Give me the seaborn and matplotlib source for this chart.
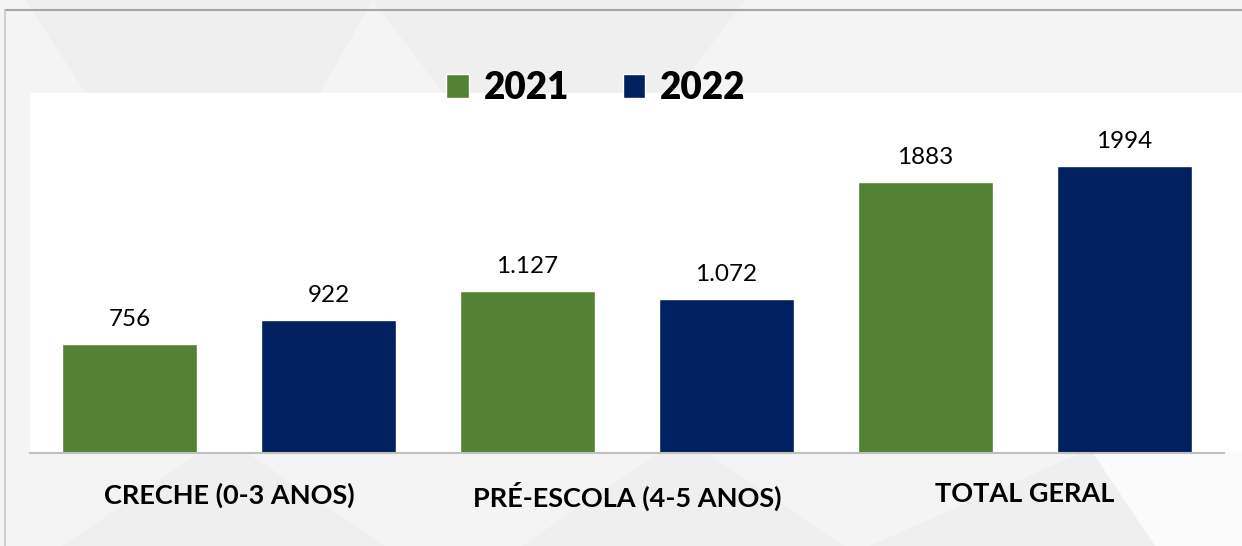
import pandas as pd
import numpy as np
import matplotlib.pyplot as plt
import seaborn as sns
from matplotlib.patches import Rectangle, Polygon
from matplotlib.lines import Line2D

# Chart data
categories = ["CRECHE (0-3 ANOS)", "PRÉ-ESCOLA (4-5 ANOS)", "TOTAL GERAL"]
years = ["2021", "2022"]
values_2021 = [756, 1127, 1883]
values_2022 = [922, 1072, 1994]
labels_2021 = ["756", "1.127", "1883"]
labels_2022 = ["922", "1.072", "1994"]

colors = {"2021": "#548235", "2022": "#002060"}

df = pd.DataFrame({
    "Categoria": categories * 2,
    "Ano": ["2021"] * 3 + ["2022"] * 3,
    "Matriculas": values_2021 + values_2022,
})

sns.set_style("white")
plt.rcParams["font.family"] = ["Lato", "DejaVu Sans"]
plt.rcParams["text.color"] = "black"

fig = plt.figure(figsize=(12.42, 5.46), dpi=100)
fig.patch.set_facecolor("#f4f4f4")

# faint background texture
bg_shapes = [
    [(0.02, 1.0), (0.17, 0.48), (0.30, 1.0)],
    [(0.30, 1.0), (0.45, 0.55), (0.60, 1.0)],
    [(0.05, 0.0), (0.18, 0.20), (0.31, 0.0)],
    [(0.42, 0.0), (0.55, 0.20), (0.68, 0.0)],
    [(0.70, 0.0), (0.90, 0.20), (1.0, 0.0)],
]
for pts in bg_shapes:
    fig.patches.append(Polygon(pts, closed=True, transform=fig.transFigure,
                               facecolor="#efefef", edgecolor="none", zorder=0))
fig.patches.append(Polygon([(0.88, 0.17), (0.93, 0.0), (1.0, 0.0), (1.0, 0.17)],
                           closed=True, transform=fig.transFigure,
                           facecolor="#fbfbfb", edgecolor="none", zorder=0))

# white panel behind the plot
fig.patches.append(Rectangle((30 / 1242, 93 / 546), 1 - 30 / 1242, 360 / 546,
                             transform=fig.transFigure, facecolor="white",
                             edgecolor="none", zorder=1))

# outer frame lines
fig.add_artist(Line2D([5 / 1242, 1], [1 - 10 / 546, 1 - 10 / 546],
                      transform=fig.transFigure, color="#a6a6a6", lw=1.5))
fig.add_artist(Line2D([5 / 1242, 5 / 1242], [0, 1 - 10 / 546],
                      transform=fig.transFigure, color="#c8c8c8", lw=1.2))

ax = fig.add_axes([30 / 1242, 93 / 546, 1194 / 1242, 360 / 546])
ax.set_zorder(3)
ax.patch.set_alpha(0)

sns.barplot(data=df, x="Categoria", y="Matriculas", hue="Ano", hue_order=years,
            order=categories, palette=colors, width=1.0, gap=0.32,
            errorbar=None, saturation=1, ax=ax)

ax.set_ylim(0, 2500)
ax.set_xlim(-0.5, 2.5)
ax.set_xlabel("")
ax.set_ylabel("")
ax.set_yticks([])
for side in ["top", "right", "left"]:
    ax.spines[side].set_visible(False)
ax.spines["bottom"].set_color("#bfbfbf")
ax.spines["bottom"].set_linewidth(1.5)
ax.tick_params(axis="x", length=0, pad=21)
for t in ax.get_xticklabels():
    t.set_fontsize(19.5)
    t.set_fontweight("bold")
    t.set_color("black")

for container, labs in zip(ax.containers, [labels_2021, labels_2022]):
    ax.bar_label(container, labels=labs, padding=10, fontsize=17.5, color="black")

sns.move_legend(ax, "center", bbox_to_anchor=(596 / 1242, 1 - 88 / 546),
                bbox_transform=fig.transFigure, ncol=2, frameon=False, title=None,
                fontsize=26.5, handlelength=0.62, handleheight=0.62,
                handletextpad=0.4, columnspacing=1.45)
for t in ax.get_legend().get_texts():
    t.set_fontweight("heavy")
    t.set_color("black")

fig.savefig("out.png", dpi=100, facecolor=fig.get_facecolor())
